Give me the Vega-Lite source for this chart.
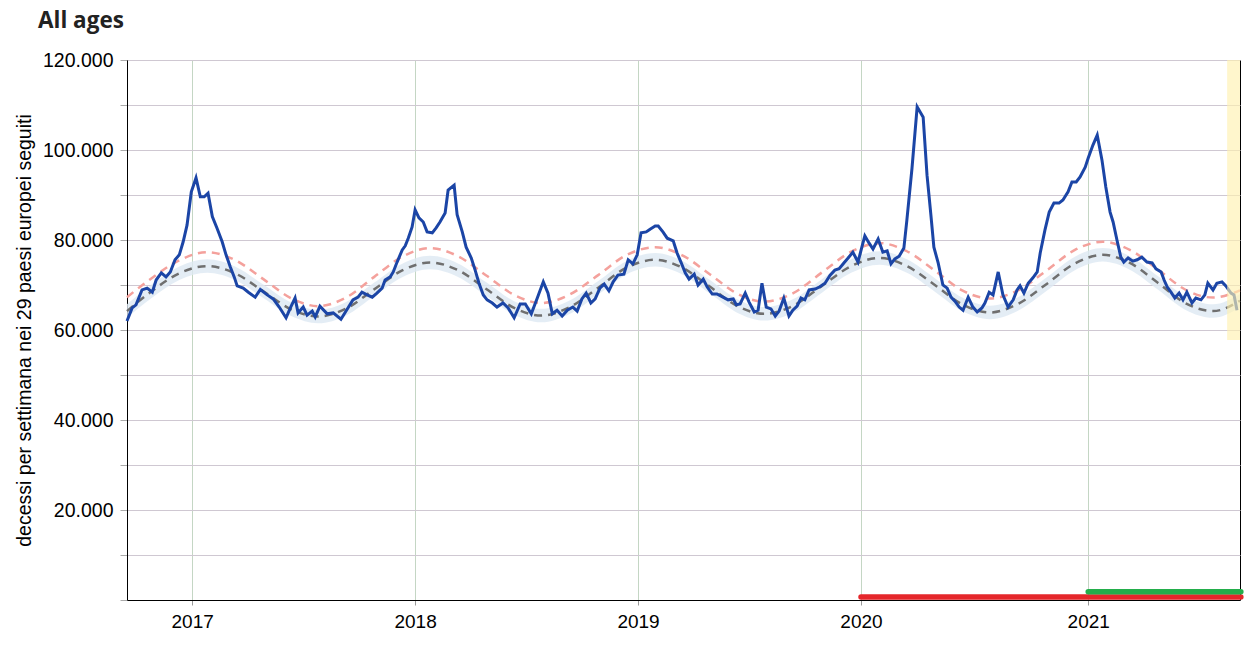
{
  "$schema": "https://vega.github.io/schema/vega-lite/v6.json",
  "width": 1113,
  "height": 540,
  "autosize": "none",
  "padding": {"left": 127, "top": 60, "right": 20, "bottom": 60},
  "background": "white",
  "title": {"text": "All ages", "anchor": "start", "frame": "group", "dx": -89, "offset": 18, "fontSize": 22.5, "fontWeight": "bold", "font": "Open Sans", "color": "#222222"},
  "config": {
    "view": {"stroke": "black", "strokeWidth": 1},
    "axis": {"labelFont": "Liberation Sans", "titleFont": "Liberation Sans", "labelColor": "black", "titleColor": "black", "domainColor": "black"}
  },
  "datasets": {
    "obs": [
      {"w": -15.2, "v": 62000}, {"w": -14.0, "v": 64900}, {"w": -13.1, "v": 65600}, {"w": -11.7, "v": 68900}, {"w": -10.5, "v": 69300}, {"w": -9.3, "v": 68400}, {"w": -8.4, "v": 71100}, {"w": -7.2, "v": 72700}, {"w": -6.1, "v": 71800}, {"w": -5.1, "v": 72900}, {"w": -4.0, "v": 75600}, {"w": -3.0, "v": 76700}, {"w": -2.1, "v": 79600}, {"w": -1.2, "v": 83300}, {"w": -0.2, "v": 90700}, {"w": 0.9, "v": 93800}, {"w": 1.9, "v": 89600}, {"w": 2.8, "v": 89600}, {"w": 3.7, "v": 90400}, {"w": 4.7, "v": 85200}, {"w": 5.8, "v": 82600}, {"w": 7.0, "v": 79600}, {"w": 7.9, "v": 76700}, {"w": 8.9, "v": 74000}, {"w": 9.8, "v": 71800}, {"w": 10.5, "v": 69800}, {"w": 11.9, "v": 69300}, {"w": 13.1, "v": 68400}, {"w": 14.7, "v": 67300}, {"w": 15.9, "v": 69000}, {"w": 17.5, "v": 67800}, {"w": 18.9, "v": 66900}, {"w": 20.3, "v": 65100}, {"w": 21.9, "v": 62700}, {"w": 22.9, "v": 64900}, {"w": 24.0, "v": 67100}, {"w": 24.7, "v": 63800}, {"w": 25.9, "v": 65100}, {"w": 26.8, "v": 63300}, {"w": 28.0, "v": 64200}, {"w": 28.7, "v": 62900}, {"w": 29.8, "v": 65300}, {"w": 31.5, "v": 63600}, {"w": 32.9, "v": 63800}, {"w": 34.7, "v": 62400}, {"w": 36.4, "v": 65000}, {"w": 37.5, "v": 66700}, {"w": 38.7, "v": 67300}, {"w": 39.6, "v": 68400}, {"w": 40.8, "v": 67800}, {"w": 42.0, "v": 67300}, {"w": 43.1, "v": 68200}, {"w": 44.3, "v": 69300}, {"w": 45.0, "v": 71100}, {"w": 46.2, "v": 71800}, {"w": 46.9, "v": 72900}, {"w": 47.8, "v": 75100}, {"w": 49.0, "v": 77800}, {"w": 49.7, "v": 78700}, {"w": 50.4, "v": 80400}, {"w": 51.3, "v": 82900}, {"w": 52.0, "v": 86700}, {"w": 52.9, "v": 84900}, {"w": 53.9, "v": 84000}, {"w": 54.8, "v": 81800}, {"w": 56.0, "v": 81600}, {"w": 56.9, "v": 82700}, {"w": 57.8, "v": 84000}, {"w": 59.0, "v": 86000}, {"w": 59.7, "v": 91100}, {"w": 61.1, "v": 92200}, {"w": 61.8, "v": 85600}, {"w": 63.0, "v": 81800}, {"w": 63.9, "v": 78400}, {"w": 65.1, "v": 76000}, {"w": 66.0, "v": 73300}, {"w": 66.9, "v": 70400}, {"w": 67.9, "v": 67800}, {"w": 68.8, "v": 66700}, {"w": 70.0, "v": 66000}, {"w": 71.1, "v": 65100}, {"w": 72.5, "v": 66000}, {"w": 73.7, "v": 64900}, {"w": 75.1, "v": 62700}, {"w": 76.5, "v": 65800}, {"w": 77.7, "v": 65800}, {"w": 79.1, "v": 63600}, {"w": 80.5, "v": 67100}, {"w": 81.9, "v": 70700}, {"w": 83.0, "v": 68200}, {"w": 84.0, "v": 63600}, {"w": 85.1, "v": 64400}, {"w": 86.3, "v": 63100}, {"w": 87.5, "v": 64400}, {"w": 88.8, "v": 65100}, {"w": 89.8, "v": 64200}, {"w": 90.9, "v": 66900}, {"w": 91.9, "v": 68200}, {"w": 93.0, "v": 66000}, {"w": 94.0, "v": 66900}, {"w": 95.1, "v": 69300}, {"w": 96.1, "v": 70200}, {"w": 97.2, "v": 68700}, {"w": 98.2, "v": 70700}, {"w": 99.3, "v": 72200}, {"w": 100.7, "v": 72400}, {"w": 101.7, "v": 75600}, {"w": 102.8, "v": 74700}, {"w": 103.8, "v": 76700}, {"w": 104.7, "v": 81600}, {"w": 105.9, "v": 81800}, {"w": 106.8, "v": 82400}, {"w": 108.0, "v": 83100}, {"w": 108.7, "v": 83100}, {"w": 109.8, "v": 81800}, {"w": 110.8, "v": 80400}, {"w": 112.2, "v": 79800}, {"w": 113.1, "v": 77100}, {"w": 114.0, "v": 75100}, {"w": 115.0, "v": 72700}, {"w": 115.9, "v": 71300}, {"w": 117.1, "v": 72400}, {"w": 118.0, "v": 70000}, {"w": 119.2, "v": 71300}, {"w": 120.1, "v": 69600}, {"w": 121.3, "v": 68000}, {"w": 122.4, "v": 68000}, {"w": 123.8, "v": 67300}, {"w": 125.0, "v": 66700}, {"w": 126.2, "v": 66900}, {"w": 126.9, "v": 65600}, {"w": 127.8, "v": 65800}, {"w": 129.0, "v": 68200}, {"w": 129.9, "v": 66200}, {"w": 131.1, "v": 64000}, {"w": 132.0, "v": 64400}, {"w": 132.9, "v": 70400}, {"w": 133.9, "v": 65100}, {"w": 135.0, "v": 64700}, {"w": 136.0, "v": 63100}, {"w": 136.9, "v": 64200}, {"w": 138.0, "v": 67100}, {"w": 139.2, "v": 63100}, {"w": 140.1, "v": 64400}, {"w": 141.1, "v": 65300}, {"w": 142.0, "v": 67100}, {"w": 142.9, "v": 66700}, {"w": 143.9, "v": 68900}, {"w": 145.3, "v": 69100}, {"w": 146.4, "v": 69600}, {"w": 147.6, "v": 70400}, {"w": 148.8, "v": 72200}, {"w": 149.9, "v": 73300}, {"w": 150.9, "v": 73600}, {"w": 152.0, "v": 74900}, {"w": 153.0, "v": 76000}, {"w": 154.1, "v": 77300}, {"w": 155.3, "v": 75100}, {"w": 156.2, "v": 78400}, {"w": 156.9, "v": 80900}, {"w": 157.9, "v": 79300}, {"w": 158.8, "v": 78000}, {"w": 160.0, "v": 80200}, {"w": 161.1, "v": 77300}, {"w": 162.1, "v": 77600}, {"w": 163.0, "v": 74700}, {"w": 163.9, "v": 75800}, {"w": 164.9, "v": 76400}, {"w": 166.0, "v": 78200}, {"w": 166.7, "v": 84400}, {"w": 167.9, "v": 96000}, {"w": 169.1, "v": 109600}, {"w": 170.5, "v": 107300}, {"w": 171.4, "v": 94400}, {"w": 172.3, "v": 85600}, {"w": 173.0, "v": 78400}, {"w": 174.0, "v": 74900}, {"w": 175.1, "v": 70000}, {"w": 176.1, "v": 69300}, {"w": 177.0, "v": 67300}, {"w": 177.9, "v": 66400}, {"w": 178.9, "v": 65100}, {"w": 179.8, "v": 64400}, {"w": 181.0, "v": 67300}, {"w": 182.1, "v": 65100}, {"w": 183.1, "v": 64000}, {"w": 184.2, "v": 64900}, {"w": 184.9, "v": 66000}, {"w": 185.9, "v": 68400}, {"w": 186.8, "v": 67800}, {"w": 188.0, "v": 72900}, {"w": 189.1, "v": 67800}, {"w": 190.3, "v": 65100}, {"w": 191.5, "v": 66700}, {"w": 192.4, "v": 68900}, {"w": 193.1, "v": 69800}, {"w": 194.0, "v": 68200}, {"w": 195.0, "v": 70400}, {"w": 196.1, "v": 71600}, {"w": 197.1, "v": 72900}, {"w": 197.8, "v": 77100}, {"w": 198.9, "v": 82200}, {"w": 199.9, "v": 86200}, {"w": 201.0, "v": 88200}, {"w": 202.2, "v": 88200}, {"w": 203.1, "v": 88900}, {"w": 204.3, "v": 90700}, {"w": 205.2, "v": 92900}, {"w": 206.2, "v": 92900}, {"w": 207.1, "v": 94000}, {"w": 208.3, "v": 96200}, {"w": 209.0, "v": 98200}, {"w": 210.1, "v": 101100}, {"w": 211.1, "v": 103300}, {"w": 212.2, "v": 97800}, {"w": 213.1, "v": 91800}, {"w": 214.1, "v": 86200}, {"w": 214.8, "v": 84000}, {"w": 215.7, "v": 80000}, {"w": 216.6, "v": 76200}, {"w": 217.3, "v": 75100}, {"w": 218.3, "v": 76000}, {"w": 219.4, "v": 75300}, {"w": 220.4, "v": 75600}, {"w": 221.5, "v": 76200}, {"w": 222.7, "v": 75100}, {"w": 223.9, "v": 74900}, {"w": 224.8, "v": 73600}, {"w": 226.0, "v": 72900}, {"w": 226.7, "v": 71100}, {"w": 227.4, "v": 69600}, {"w": 228.3, "v": 68400}, {"w": 229.2, "v": 67100}, {"w": 230.2, "v": 68200}, {"w": 231.1, "v": 66700}, {"w": 232.0, "v": 68400}, {"w": 233.2, "v": 66000}, {"w": 234.1, "v": 67100}, {"w": 235.3, "v": 66700}, {"w": 236.2, "v": 67800}, {"w": 236.9, "v": 70400}, {"w": 238.1, "v": 68900}, {"w": 239.0, "v": 70400}, {"w": 240.2, "v": 70700}, {"w": 241.1, "v": 69800}, {"w": 242.3, "v": 68200}, {"w": 243.0, "v": 67800}, {"w": 243.7, "v": 64400}
    ],
    "base": [
      {"w": -15.2, "base": 64200, "lo": 62700, "hi": 65700, "thr": 67300},
      {"w": -9.6, "base": 68500, "lo": 67000, "hi": 70000, "thr": 71400},
      {"w": -3.0, "base": 72600, "lo": 71100, "hi": 74100, "thr": 75500},
      {"w": 3.5, "base": 74200, "lo": 72700, "hi": 75700, "thr": 77300},
      {"w": 10.0, "base": 72600, "lo": 71100, "hi": 74100, "thr": 75550},
      {"w": 16.6, "base": 68600, "lo": 67100, "hi": 70100, "thr": 71300},
      {"w": 23.1, "base": 64600, "lo": 63100, "hi": 66100, "thr": 67050},
      {"w": 29.4, "base": 63000, "lo": 61500, "hi": 64500, "thr": 65300},
      {"w": 35.9, "base": 64750, "lo": 63250, "hi": 66250, "thr": 67200},
      {"w": 42.4, "base": 69000, "lo": 67500, "hi": 70500, "thr": 71750},
      {"w": 49.0, "base": 73250, "lo": 71750, "hi": 74750, "thr": 76300},
      {"w": 55.5, "base": 75000, "lo": 73500, "hi": 76500, "thr": 78200},
      {"w": 62.0, "base": 73300, "lo": 71800, "hi": 74800, "thr": 76400},
      {"w": 68.6, "base": 69100, "lo": 67600, "hi": 70600, "thr": 72100},
      {"w": 75.1, "base": 64900, "lo": 63400, "hi": 66400, "thr": 67800},
      {"w": 81.4, "base": 63200, "lo": 61700, "hi": 64700, "thr": 66000},
      {"w": 87.9, "base": 65000, "lo": 63500, "hi": 66500, "thr": 67800},
      {"w": 94.7, "base": 69400, "lo": 67900, "hi": 70900, "thr": 72200},
      {"w": 101.2, "base": 73800, "lo": 72300, "hi": 75300, "thr": 76600},
      {"w": 108.0, "base": 75600, "lo": 74100, "hi": 77100, "thr": 78400},
      {"w": 114.3, "base": 73850, "lo": 72350, "hi": 75350, "thr": 76600},
      {"w": 120.8, "base": 69600, "lo": 68100, "hi": 71100, "thr": 72350},
      {"w": 127.1, "base": 65350, "lo": 63850, "hi": 66850, "thr": 68100},
      {"w": 133.4, "base": 63600, "lo": 62100, "hi": 65100, "thr": 66300},
      {"w": 140.2, "base": 65400, "lo": 63900, "hi": 66900, "thr": 68200},
      {"w": 146.9, "base": 69800, "lo": 68300, "hi": 71300, "thr": 72800},
      {"w": 153.7, "base": 74200, "lo": 72700, "hi": 75700, "thr": 77400},
      {"w": 160.4, "base": 76000, "lo": 74500, "hi": 77500, "thr": 79300},
      {"w": 166.7, "base": 74200, "lo": 72700, "hi": 75700, "thr": 77500},
      {"w": 173.3, "base": 69950, "lo": 68450, "hi": 71450, "thr": 73150},
      {"w": 179.6, "base": 65700, "lo": 64200, "hi": 67200, "thr": 68800},
      {"w": 186.1, "base": 63900, "lo": 62400, "hi": 65400, "thr": 67000},
      {"w": 192.6, "base": 65800, "lo": 64300, "hi": 67300, "thr": 68800},
      {"w": 199.4, "base": 70300, "lo": 68800, "hi": 71800, "thr": 73300},
      {"w": 205.9, "base": 74800, "lo": 73300, "hi": 76300, "thr": 77800},
      {"w": 212.4, "base": 76700, "lo": 75200, "hi": 78200, "thr": 79600},
      {"w": 218.7, "base": 74900, "lo": 73400, "hi": 76400, "thr": 77800},
      {"w": 225.3, "base": 70450, "lo": 68950, "hi": 71950, "thr": 73400},
      {"w": 231.6, "base": 66000, "lo": 64500, "hi": 67500, "thr": 69000},
      {"w": 238.1, "base": 64200, "lo": 62700, "hi": 65700, "thr": 67200},
      {"w": 244.4, "base": 66500, "lo": 65000, "hi": 68000, "thr": 68800}
    ],
    "bars": [
      {"w1": 156, "w2": 244.6, "y": 650, "kind": "red"},
      {"w1": 209, "w2": 244.6, "y": 1850, "kind": "green"}
    ],
    "delay": [
      {"w1": 241.4, "w2": 244.4, "y1": 57800, "y2": 120000}
    ]
  },
  "layer": [
    {
      "data": {"name": "base"},
      "mark": {"type": "area", "interpolate": "monotone", "color": "#dde9f2", "opacity": 0.8},
      "encoding": {
        "x": {"field": "w", "type": "quantitative", "scale": {"domain": [-15.2, 244.4], "nice": false, "zero": false},
          "axis": {"values": [0, 52, 104, 156, 209], "labelExpr": "datum.value == 0 ? '2017' : datum.value == 52 ? '2018' : datum.value == 104 ? '2019' : datum.value == 156 ? '2020' : '2021'",
            "title": null, "grid": true, "gridColor": "#c4d6c4", "gridWidth": 1, "labelFontSize": 19, "labelPadding": 7, "tickSize": 5, "tickColor": "#999999", "domainColor": "black", "labelFont": "Liberation Sans"}},
        "y": {"field": "lo", "type": "quantitative", "scale": {"domain": [0, 120000], "nice": false},
          "axis": {"values": [0, 10000, 20000, 30000, 40000, 50000, 60000, 70000, 80000, 90000, 100000, 110000, 120000],
            "labelExpr": "datum.value % 20000 == 0 && datum.value > 0 ? replace(format(datum.value, ','), ',', '.') : ''",
            "title": "decessi per settimana  nei 29 paesi europei seguiti", "titleFontSize": 19.5, "titleFontWeight": "normal", "titlePadding": 8,
            "grid": true, "gridColor": "#cfc8d2", "gridWidth": 1, "labelFontSize": 19.5, "labelPadding": 7, "tickSize": 7, "tickColor": "#aaaaaa", "domainColor": "black"}},
        "y2": {"field": "hi"}
      }
    },
    {
      "data": {"name": "base"},
      "mark": {"type": "line", "interpolate": "monotone", "color": "#f4a19c", "strokeWidth": 2.5, "strokeDash": [8, 6]},
      "encoding": {
        "x": {"field": "w", "type": "quantitative"},
        "y": {"field": "thr", "type": "quantitative"}
      }
    },
    {
      "data": {"name": "base"},
      "mark": {"type": "line", "interpolate": "monotone", "color": "#6f6f6f", "strokeWidth": 2.5, "strokeDash": [8, 6]},
      "encoding": {
        "x": {"field": "w", "type": "quantitative"},
        "y": {"field": "base", "type": "quantitative"}
      }
    },
    {
      "data": {"name": "obs"},
      "mark": {"type": "line", "color": "#1b45a6", "strokeWidth": 3, "strokeJoin": "miter"},
      "encoding": {
        "x": {"field": "w", "type": "quantitative"},
        "y": {"field": "v", "type": "quantitative"}
      }
    },
    {
      "data": {"name": "bars"},
      "mark": {"type": "rule", "strokeWidth": 5.5, "strokeCap": "round"},
      "encoding": {
        "x": {"field": "w1", "type": "quantitative"},
        "x2": {"field": "w2"},
        "y": {"field": "y", "type": "quantitative"},
        "color": {"field": "kind", "type": "nominal", "scale": {"domain": ["red", "green"], "range": ["#e5272b", "#23ae4b"]}, "legend": null}
      }
    },
    {
      "data": {"name": "delay"},
      "mark": {"type": "rect", "color": "#fff1b0", "opacity": 0.65},
      "encoding": {
        "x": {"field": "w1", "type": "quantitative"},
        "x2": {"field": "w2"},
        "y": {"field": "y1", "type": "quantitative"},
        "y2": {"field": "y2"}
      }
    }
  ]
}
